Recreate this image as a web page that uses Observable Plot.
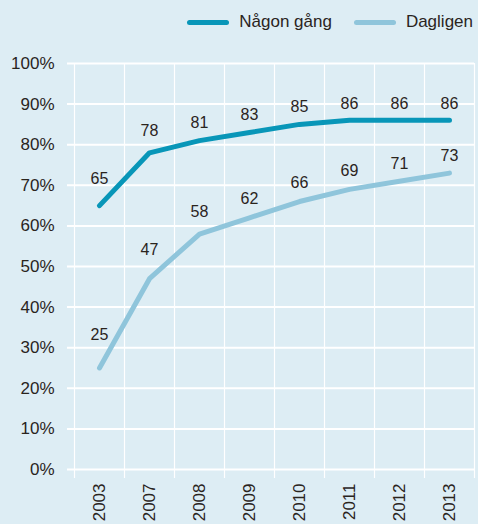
<!DOCTYPE html>
<html>
<head>
<meta charset="utf-8">
<script src="https://cdn.jsdelivr.net/npm/d3@7"></script>
<script src="https://cdn.jsdelivr.net/npm/@observablehq/plot@0.6"></script>
<style>
  html, body { margin: 0; padding: 0; background: #ddedf4; }
  body { width: 478px; height: 524px; overflow: hidden; font-family: "Liberation Sans", Arial, Helvetica, sans-serif; color: #2a241d; }
  .legend { height: 44px; display: flex; justify-content: flex-end; align-items: center; padding-right: 5px; font-size: 17px; box-sizing: border-box; padding-top: 0; }
  .legend .item { display: flex; align-items: center; }
  .legend .sw { width: 42px; height: 5px; border-radius: 3px; margin-right: 10px; }
  .legend .item + .item { margin-left: 22px; }
</style>
</head>
<body>
<div class="legend" id="legend"></div>
<div id="chart"></div>
<script>
const years = ["2003", "2007", "2008", "2009", "2010", "2011", "2012", "2013"];
const seriesNames = ["Någon gång", "Dagligen"];
const nagonGang = [65, 78, 81, 83, 85, 86, 86, 86];
const dagligen = [25, 47, 58, 62, 66, 69, 71, 73];
const yTicks = [0, 10, 20, 30, 40, 50, 60, 70, 80, 90, 100];
const colors = ["#0896b8", "#8fc5db"];

// label lift grows with the local steepness of the line so labels clear it
function lift(vals, i) {
  const s = [];
  if (i > 0) s.push(Math.abs(vals[i] - vals[i - 1]));
  if (i < vals.length - 1) s.push(Math.abs(vals[i + 1] - vals[i]));
  const avg = s.reduce((a, b) => a + b, 0) / s.length;
  return -(16 + 0.8 * avg);
}

const rows = [];
years.forEach((y, i) => {
  rows.push({year: y, series: seriesNames[0], value: nagonGang[i], dy: lift(nagonGang, i)});
  rows.push({year: y, series: seriesNames[1], value: dagligen[i], dy: lift(dagligen, i)});
});

const legend = document.getElementById("legend");
seriesNames.forEach((s, i) => {
  const item = document.createElement("div");
  item.className = "item";
  const sw = document.createElement("div");
  sw.className = "sw";
  sw.style.background = colors[i];
  const t = document.createElement("span");
  t.textContent = s;
  item.appendChild(sw);
  item.appendChild(t);
  legend.appendChild(item);
});

const W = 478, H = 480, ML = 74, MR = 4, MT = 19, MB = 55;
const bw = (W - ML - MR) / years.length;
const textColor = "#2a241d";

const textMarks = rows.map(r => Plot.text([r], {x: "year", y: "value", text: d => String(d.value), dy: r.dy, fontSize: 16, fill: textColor}));

const chart = Plot.plot({
  width: W,
  height: H,
  marginLeft: ML,
  marginRight: MR,
  marginTop: MT,
  marginBottom: MB,
  style: {background: "transparent", fontFamily: "Liberation Sans, Arial, sans-serif", color: textColor},
  x: {type: "band", domain: years, padding: 0},
  y: {domain: [0, 100]},
  color: {domain: seriesNames, range: colors},
  marks: [
    Plot.ruleY(yTicks, {y: d => d, stroke: "white", strokeWidth: 2, insetLeft: -7}),
    Plot.ruleX(years, {x: d => d, dx: -bw / 2, stroke: "white", strokeWidth: 1.2, insetBottom: -9}),
    Plot.ruleX([years[years.length - 1]], {x: d => d, dx: bw / 2, stroke: "white", strokeWidth: 1.2, insetBottom: -9}),
    Plot.axisY({ticks: yTicks, tickSize: 0, tickPadding: 20, tickFormat: d => d + "%", fontSize: 17, fill: textColor, label: null}),
    Plot.axisX({tickSize: 0, tickPadding: 14, tickRotate: -90, fontSize: 17, fill: textColor, label: null}),
    Plot.line(rows, {x: "year", y: "value", z: "series", stroke: "series", strokeWidth: 5, strokeLinecap: "round", strokeLinejoin: "round"}),
    ...textMarks
  ]
});
document.getElementById("chart").appendChild(chart);
</script>
</body>
</html>
